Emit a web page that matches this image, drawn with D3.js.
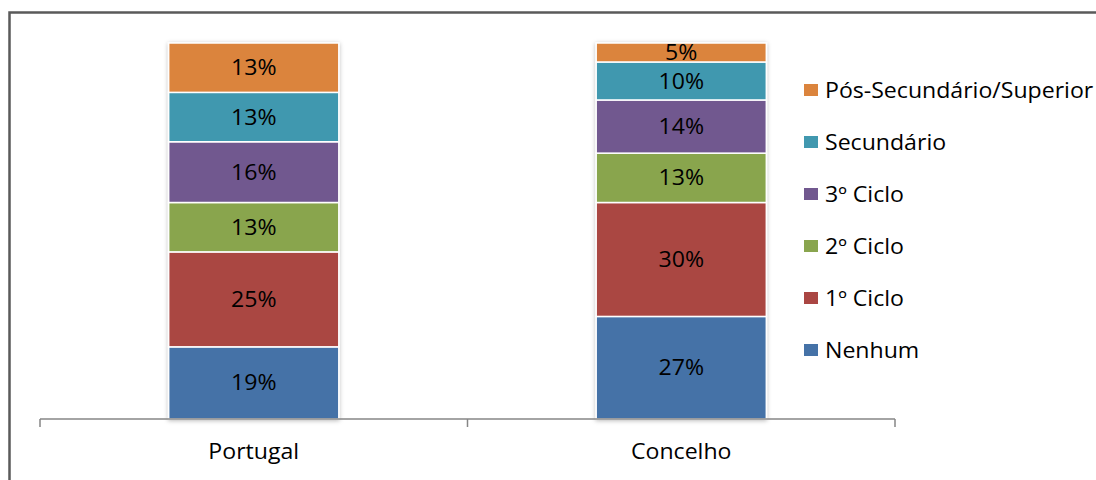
<!DOCTYPE html>
<html>
<head>
<meta charset="utf-8">
<script src="https://cdn.jsdelivr.net/npm/d3@7"></script>
<style>
  html, body { margin: 0; padding: 0; background: #fff; }
  svg { display: block; }
  text { font-family: "Open Sans", "Noto Sans", sans-serif; font-size: 21px; fill: #000; }
</style>
</head>
<body>
<svg id="chart" width="1096" height="480"></svg>
<script>
// Education level shares (%) for each area
const categories = ["Portugal", "Concelho"];
const levels = ["Nenhum", "1º Ciclo", "2º Ciclo", "3º Ciclo", "Secundário", "Pós-Secundário/Superior"];
const portugalValues = [19, 25, 13, 16, 13, 13];
const concelhoValues = [27, 30, 13, 14, 10, 5];
const levelColors = ["#4572A7", "#AA4643", "#89A54E", "#71588F", "#4198AF", "#DB843D"];

const seriesByCategory = [portugalValues, concelhoValues];
const rows = categories.map((c, i) => {
  const row = { category: c };
  levels.forEach((l, j) => { row[l] = seriesByCategory[i][j]; });
  return row;
});

const svg = d3.select("#chart");
const textStretch = 1.1;

// soft shadow around the bars
const defs = svg.append("defs");
const f = defs.append("filter").attr("id", "barShadow")
  .attr("x", "-10%").attr("y", "-5%").attr("width", "120%").attr("height", "110%");
f.append("feDropShadow").attr("dx", 0).attr("dy", 1).attr("stdDeviation", 2)
  .attr("flood-color", "#000").attr("flood-opacity", 0.28);

// chart frame
svg.append("path")
  .attr("d", "M9.5,480 V12.5 H1096")
  .attr("fill", "none").attr("stroke", "#5a5a5a").attr("stroke-width", 2.5);

const x = d3.scaleBand().domain(categories).range([40, 895]).padding(0);
const y = d3.scaleLinear().domain([0, 1]).range([419, 43]);
const color = d3.scaleOrdinal().domain(levels).range(levelColors);
const barWidth = x.bandwidth() * 0.398;

const stack = d3.stack().keys(levels).offset(d3.stackOffsetExpand);
const stacked = stack(rows);

const bars = svg.append("g");
categories.forEach((cat, ci) => {
  const g = bars.append("g").attr("filter", "url(#barShadow)");
  const cx = x(cat) + x.bandwidth() / 2;
  stacked.forEach(s => {
    const d = s[ci];
    g.append("rect")
      .attr("x", cx - barWidth / 2)
      .attr("width", barWidth)
      .attr("y", y(d[1]))
      .attr("height", y(d[0]) - y(d[1]))
      .attr("fill", color(s.key))
      .attr("stroke", "#fff")
      .attr("stroke-width", 1.5);
  });
});

// value labels
const labels = svg.append("g");
categories.forEach((cat, ci) => {
  const cx = x(cat) + x.bandwidth() / 2;
  stacked.forEach(s => {
    const d = s[ci];
    const cy = (y(d[0]) + y(d[1])) / 2;
    labels.append("text")
      .attr("transform", `translate(${cx},${cy}) scale(${textStretch},1)`)
      .attr("text-anchor", "middle")
      .attr("dy", "0.36em")
      .text(d.data[s.key] + "%");
  });
});

// category axis
const axis = svg.append("g").attr("transform", "translate(0,419)");
axis.append("line").attr("x1", 40).attr("x2", 895)
  .attr("stroke", "#868686").attr("stroke-width", 1.5);
const tickPositions = categories.map(c => x(c)).concat([x.range()[1]]);
axis.selectAll("line.tick").data(tickPositions).join("line")
  .attr("class", "tick")
  .attr("x1", d => d).attr("x2", d => d)
  .attr("y1", 0).attr("y2", 8)
  .attr("stroke", "#868686").attr("stroke-width", 1.5);
axis.selectAll("text").data(categories).join("text")
  .attr("transform", d => `translate(${x(d) + x.bandwidth() / 2},40) scale(${textStretch},1)`)
  .attr("text-anchor", "middle")
  .text(d => d);

// legend, top level first
const legendLevels = levels.slice().reverse();
const legend = svg.append("g");
const legendY = d3.scalePoint().domain(legendLevels).range([90, 350]);
legendLevels.forEach(l => {
  const cy = legendY(l);
  legend.append("rect")
    .attr("x", 804).attr("y", cy - 6)
    .attr("width", 14).attr("height", 12)
    .attr("fill", color(l));
  legend.append("text")
    .attr("transform", `translate(825,${cy}) scale(${textStretch},1)`)
    .attr("dy", "0.36em")
    .text(l);
});
</script>
</body>
</html>
